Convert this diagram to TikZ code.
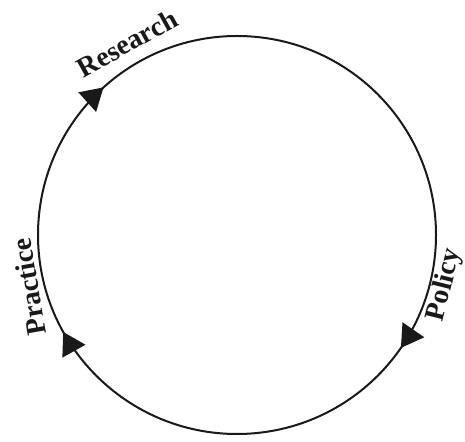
\documentclass[tikz,border=0pt]{standalone}
\usepackage{fontspec}
\setmainfont{Liberation Serif}
\usetikzlibrary{arrows.meta,decorations.markings}
\definecolor{cycleInk}{RGB}{25,25,25}
\tikzset{
  steplabel/.style={font=\bfseries\fontsize{28}{30}\selectfont, text=cycleInk, inner sep=0pt},
  cycleline/.style={line width=2pt, draw=cycleInk},
  cyclemarks/.style={decoration={markings,
      mark=at position 0.096 with {\arrow[cycleInk]{Triangle[length=22pt, width=26pt]}},
      mark=at position 0.419 with {\arrow[cycleInk]{Triangle[length=22pt, width=26pt]}},
      mark=at position 0.633 with {\arrow[cycleInk]{Triangle[length=22pt, width=26pt]}}},
    postaction={decorate}}
}

\begin{document}
\begin{tikzpicture}[x=1pt, y=1pt]
        \useasboundingbox (0,0) rectangle (465,441);
        \coordinate (hub) at (237,206);
        % the cycle, drawn clockwise
        \draw[cycleline, cyclemarks] ([shift={(0:199)}]hub) arc[start angle=360, end angle=0, radius=199];
        \node[steplabel, rotate=29] (research) at (127,398) {Research};
        \node[steplabel, rotate=76] (policy) at (445,156) {Policy};
        \node[steplabel, rotate=100] (practice) at (29,154) {Practice};
      \end{tikzpicture}
\end{document}
